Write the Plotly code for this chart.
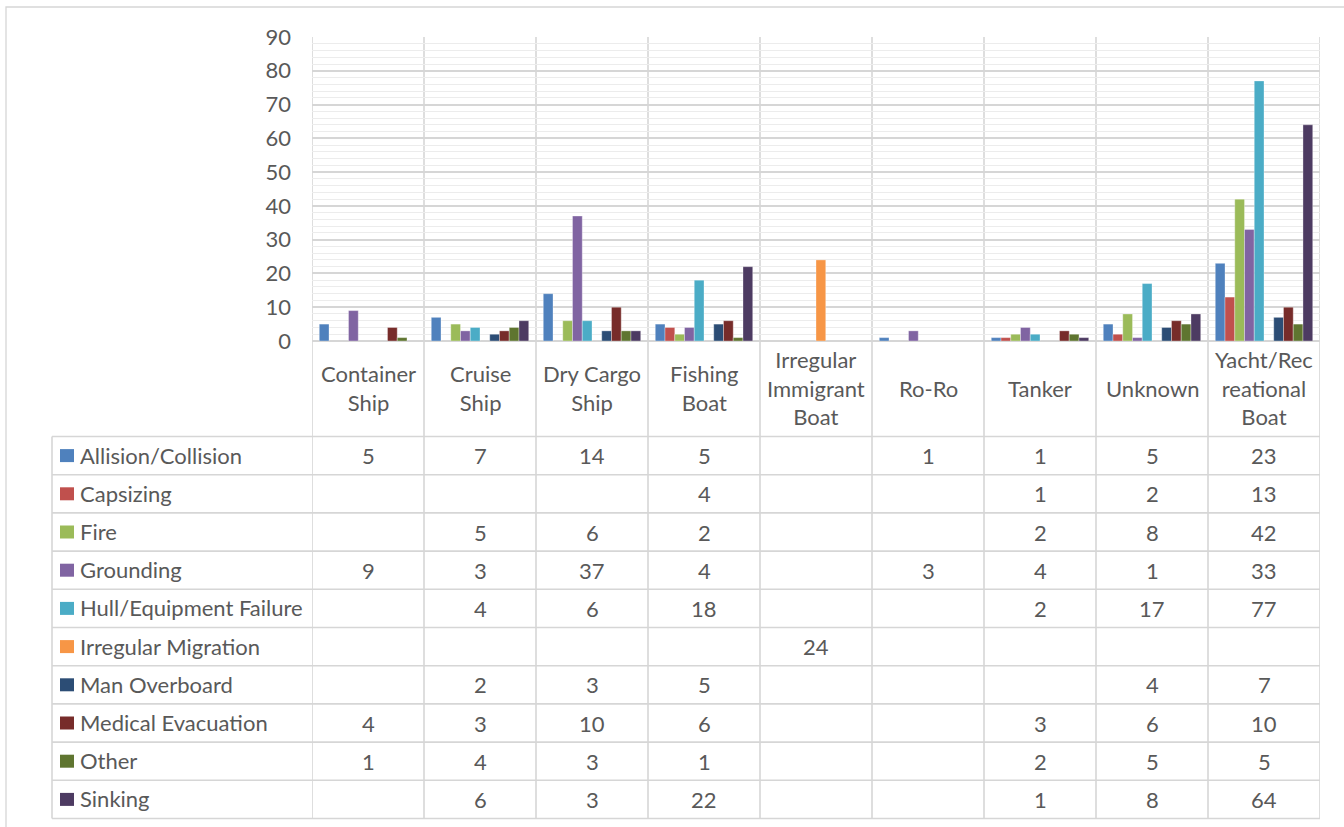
import plotly.graph_objects as go

categories = ["Container Ship", "Cruise Ship", "Dry Cargo Ship", "Fishing Boat",
              "Irregular Immigrant Boat", "Ro-Ro", "Tanker", "Unknown",
              "Yacht/Recreational Boat"]
category_labels = ["Container<br>Ship", "Cruise<br>Ship", "Dry Cargo<br>Ship", "Fishing<br>Boat",
                   "Irregular<br>Immigrant<br>Boat", "Ro-Ro", "Tanker", "Unknown",
                   "Yacht/Rec<br>reational<br>Boat"]

series_names = ["Allision/Collision", "Capsizing", "Fire", "Grounding",
                "Hull/Equipment Failure", "Irregular Migration", "Man Overboard",
                "Medical Evacuation", "Other", "Sinking"]

allision = [5, 7, 14, 5, None, 1, 1, 5, 23]
capsizing = [None, None, None, 4, None, None, 1, 2, 13]
fire = [None, 5, 6, 2, None, None, 2, 8, 42]
grounding = [9, 3, 37, 4, None, 3, 4, 1, 33]
hull_failure = [None, 4, 6, 18, None, None, 2, 17, 77]
irregular_migration = [None, None, None, None, 24, None, None, None, None]
man_overboard = [None, 2, 3, 5, None, None, None, 4, 7]
medical_evacuation = [4, 3, 10, 6, None, None, 3, 6, 10]
other = [1, 4, 3, 1, None, None, 2, 5, 5]
sinking = [None, 6, 3, 22, None, None, 1, 8, 64]

series_values = [allision, capsizing, fire, grounding, hull_failure,
                 irregular_migration, man_overboard, medical_evacuation, other, sinking]

colors = ["#4F81BD", "#C0504D", "#9BBB59", "#8064A2", "#4BACC6",
          "#F79646", "#2C4D75", "#772C2A", "#5F7530", "#4D3B62"]

y_ticks = [0, 10, 20, 30, 40, 50, 60, 70, 80, 90]

# ---- layout geometry (pixels) ----
W, H = 1344, 827
PL, PR, PT, PB = 312, 1320, 37, 341
TABLE_TOP, ROW_H = 436.5, 38.2
TABLE_LEFT = 52
GRID = "#d6d6d6"
TXT = "#595959"
FONT = "Lato"
FS = 22


def px_x(px):
    return (px - PL) / (PR - PL)


def px_y(py):
    return (PB - py) / (PB - PT)


fig = go.Figure()
x_idx = list(range(len(categories)))
for name, vals, col in zip(series_names, series_values, colors):
    fig.add_trace(go.Bar(x=x_idx, y=vals, name=name, marker_color=col,
                         marker_line=dict(width=0.6, color="rgba(255,255,255,0.55)"),
                         showlegend=False))

shapes = []
# chart outer border
shapes.append(dict(type="rect", xref="paper", yref="paper",
                   x0=px_x(6), x1=px_x(1360), y0=px_y(7), y1=px_y(840),
                   line=dict(color=GRID, width=1.3), layer="below"))
# vertical category lines through the table
n = len(categories)
table_bottom = TABLE_TOP + ROW_H * len(series_names)
for k in range(n + 1):
    shapes.append(dict(type="line", xref="x", yref="paper",
                       x0=k - 0.5, x1=k - 0.5, y0=px_y(table_bottom), y1=1,
                       line=dict(color=GRID, width=1.6), layer="below"))
# horizontal table lines
for r in range(len(series_names) + 1):
    yy = TABLE_TOP + r * ROW_H
    shapes.append(dict(type="line", xref="paper", yref="paper",
                       x0=px_x(TABLE_LEFT), x1=1, y0=px_y(yy), y1=px_y(yy),
                       line=dict(color=GRID, width=1.6)))
shapes.append(dict(type="line", xref="paper", yref="paper",
                   x0=px_x(TABLE_LEFT), x1=px_x(TABLE_LEFT),
                   y0=px_y(TABLE_TOP), y1=px_y(table_bottom),
                   line=dict(color=GRID, width=1.6)))

annotations = []
# category labels
for i, lab in enumerate(category_labels):
    annotations.append(dict(xref="x", yref="paper", x=i, y=px_y(388),
                            text=lab, showarrow=False, xanchor="center", yanchor="middle",
                            font=dict(family=FONT, size=FS, color=TXT)))
# table rows
for r, (name, vals, col) in enumerate(zip(series_names, series_values, colors)):
    cy = TABLE_TOP + (r + 0.5) * ROW_H
    shapes.append(dict(type="rect", xref="paper", yref="paper",
                       x0=px_x(60), x1=px_x(74), y0=px_y(cy - 6.5), y1=px_y(cy + 6.5),
                       fillcolor=col, line=dict(width=0)))
    annotations.append(dict(xref="paper", yref="paper", x=px_x(78), y=px_y(cy - 0.5),
                            text=name, showarrow=False, xanchor="left", yanchor="middle",
                            font=dict(family=FONT, size=FS, color=TXT)))
    for i, v in enumerate(vals):
        if v is not None:
            annotations.append(dict(xref="x", yref="paper", x=i, y=px_y(cy),
                                    text=str(v), showarrow=False,
                                    xanchor="center", yanchor="middle",
                                    font=dict(family=FONT, size=FS, color=TXT)))

fig.update_layout(
    width=W, height=H, autosize=False,
    margin=dict(l=PL, r=W - PR, t=PT, b=H - PB, pad=0),
    paper_bgcolor="white", plot_bgcolor="white",
    barmode="group", bargap=0.13, bargroupgap=0,
    shapes=shapes, annotations=annotations,
    xaxis=dict(range=[-0.5, n - 0.5], showticklabels=False, showgrid=False,
               zeroline=False, showline=False, fixedrange=True),
    yaxis=dict(range=[0, 90], tickvals=y_ticks, ticktext=[str(t) for t in y_ticks],
               showgrid=True, gridcolor=GRID, gridwidth=1.6,
               minor=dict(dtick=2, showgrid=True, gridcolor="#ececec", gridwidth=1.3),
               zeroline=True, zerolinecolor=GRID, zerolinewidth=1.6,
               showline=False, ticks="", ticklabelstandoff=20,
               tickfont=dict(family=FONT, size=FS, color=TXT), fixedrange=True),
    font=dict(family=FONT, size=FS, color=TXT),
)

fig.write_html("out.html", config={"displayModeBar": False})
